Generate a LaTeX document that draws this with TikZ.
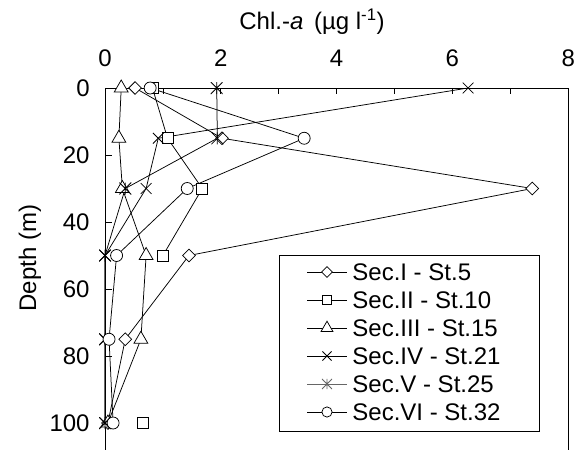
\documentclass[tikz,border=0pt]{standalone}
\usepackage{fontspec}
\setmainfont{Liberation Sans}
\usetikzlibrary{shapes.geometric,shapes.misc}
\begin{document}
\begin{tikzpicture}[x=1pt,y=1pt,line width=0.8pt,
  txt/.style={font=\fontsize{24}{28}\selectfont, inner sep=0pt},
  dmark/.style={diamond, draw, fill=white, inner sep=0pt, minimum size=13pt, line width=0.75pt},
  smark/.style={rectangle, draw, fill=white, inner sep=0pt, minimum size=11pt, line width=0.75pt},
  tmark/.style={regular polygon, regular polygon sides=3, draw, fill=white, inner sep=0pt, minimum size=16pt, line width=0.75pt},
  xmark/.style={cross out, draw, inner sep=0pt, minimum size=10pt, line width=0.75pt},
  omark/.style={circle, draw, fill=white, inner sep=0pt, minimum size=12pt, line width=0.75pt},
  amark/.style={inner sep=0pt, minimum size=12pt,
    path picture={\draw[line width=0.75pt] (path picture bounding box.south west) -- (path picture bounding box.north east)
      (path picture bounding box.north west) -- (path picture bounding box.south east)
      (path picture bounding box.north) -- (path picture bounding box.south);}},
  series/.style={line width=0.75pt},
]
\useasboundingbox (0,0) rectangle (579,-450);

% frame
\coordinate (tl) at (105,-88);
\coordinate (tr) at (568,-88);
\coordinate (bl) at (105,-450);
\coordinate (br) at (568,-450);
\draw (bl) -- (tl) -- (tr) -- (br);

% title and axis labels
\node[txt] (title) at (312,-22) {Chl.-\textit{a}\, (\textmu g l\textsuperscript{-1})};
\node[txt, rotate=90] (ylab) at (30,-258) {Depth (m)};

\begin{scope}[shift={(105pt,-88pt)}, x=57.9pt, y=-3.35pt]
  % ticks
  \foreach \v in {1,...,8} \draw (\v,0) -- ++(0,-6pt);
  \foreach \d in {20,40,60,80,100} \draw (0,\d) -- ++(7pt,0);
  \foreach \v in {0,2,4,6,8} \node[txt] (xt\v) at (\v,-9) {\v};
  \foreach \d in {0,20,40,60,80,100} \node[txt, anchor=east] (yt\d) at ([xshift=-15pt]0,\d) {\d};

  % data coordinates
  \coordinate (I0) at (0.52,0);   \coordinate (I1) at (2.02,15);  \coordinate (I2) at (7.38,30);
  \coordinate (I3) at (1.45,50);  \coordinate (I4) at (0.35,75);  \coordinate (I5) at (0.05,100);
  \coordinate (II0) at (0.82,0);  \coordinate (II1) at (1.08,15); \coordinate (II2) at (1.68,30);
  \coordinate (II3) at (1.00,50); \coordinate (II5) at (0.66,100);
  \coordinate (III0) at (0.28,0); \coordinate (III1) at (0.24,15); \coordinate (III2) at (0.30,30);
  \coordinate (III3) at (0.71,50); \coordinate (III4) at (0.62,75); \coordinate (III5) at (0.05,100);
  \coordinate (IV0) at (6.27,0);  \coordinate (IV1) at (0.92,15); \coordinate (IV2) at (0.71,30);
  \coordinate (IV3) at (0,50);    \coordinate (IV4) at (0,75);    \coordinate (IV5) at (0,100);
  \coordinate (V0) at (1.93,0);   \coordinate (V1) at (1.94,15);  \coordinate (V2) at (0.35,30);
  \coordinate (V3) at (0,50);     \coordinate (V4) at (0,75);     \coordinate (V5) at (0,100);
  \coordinate (VI0) at (0.78,0);  \coordinate (VI1) at (3.44,15); \coordinate (VI2) at (1.42,30);
  \coordinate (VI3) at (0.20,50); \coordinate (VI4) at (0.07,75); \coordinate (VI5) at (0.14,100);
\end{scope}

% series lines
\draw[series] (I0) -- (I1) -- (I2) -- (I3) -- (I4) -- (I5);
\draw[series] (II0) -- (II1) -- (II2) -- (II3);
\draw[series] (III0) -- (III1) -- (III2) -- (III3) -- (III4) -- (III5);
\draw[series] (IV0) -- (IV1) -- (IV2) -- (IV3) -- (IV4) -- (IV5);
\draw[series] (V0) -- (V1) -- (V2) -- (V3) -- (V4) -- (V5);
\draw[series] (VI0) -- (VI1) -- (VI2) -- (VI3) -- (VI4) -- (VI5);

% markers
\foreach \p in {0,...,5} \node[dmark] (mI\p) at (I\p) {};
\foreach \p in {0,1,2,3,5} \node[smark] (mII\p) at (II\p) {};
\foreach \p in {0,...,5} \node[tmark] (mIII\p) at (III\p) {};
\foreach \p in {0,...,5} \node[xmark] (mIV\p) at (IV\p) {};
\foreach \p in {0,...,5} \node[amark] (mV\p) at (V\p) {};
\foreach \p in {0,...,5} \node[omark] (mVI\p) at (VI\p) {};

% legend
\node[draw, fill=white, minimum width=260pt, minimum height=176pt, anchor=north west, inner sep=0pt, line width=0.8pt] (leg) at (279,-255) {};
\foreach \i/\lab/\st/\col/\fl in {0/Sec.I - St.5/dmark/black/white, 1/Sec.II - St.10/smark/black/white, 2/Sec.III - St.15/tmark/black/white,
   3/Sec.IV - St.21/xmark/black/none, 4/Sec.V - St.25/amark/black!60/none, 5/Sec.VI - St.32/omark/black/white} {
  \coordinate (la\i) at (307,-272-28*\i);
  \coordinate (lb\i) at (347,-272-28*\i);
  \draw[series, draw=\col] (la\i) -- (lb\i);
  \node[\st, scale=0.85, color=\col, fill=\fl] (lm\i) at (327,-272-28*\i) {};
  \node[txt, anchor=west] (lt\i) at (352,-272-28*\i) {\lab};
}
\end{tikzpicture}
\end{document}
